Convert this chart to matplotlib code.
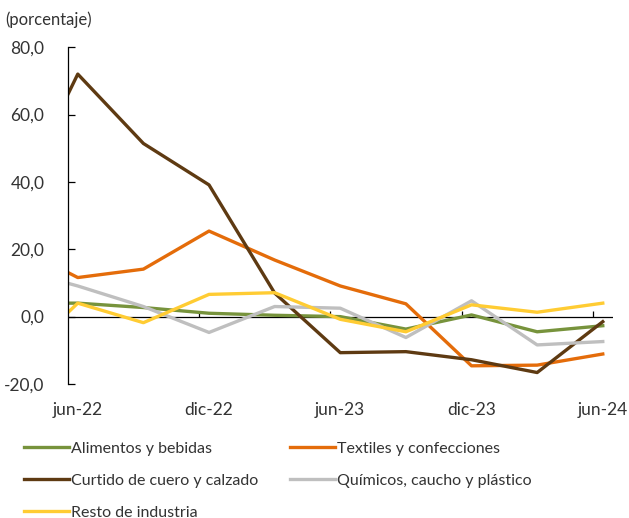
import numpy as np
import matplotlib
matplotlib.use("Agg")
import matplotlib.pyplot as plt

plt.rcParams['font.family'] = ['Lato', 'DejaVu Sans']

# x positions: first point sits on the axis, then quarterly points (jun-22 .. jun-24)
x = [-0.15, 0, 1, 2, 3, 4, 5, 6, 7, 8]
tick_labels = ["jun-22", "dic-22", "jun-23", "dic-23", "jun-24"]
tick_label_pos = [0, 2, 4, 6, 8]

alimentos = [4.0, 4.0, 2.7, 1.0, 0.4, 0.0, -3.7, 0.5, -4.5, -2.7]
textiles = [13.1, 11.6, 14.1, 25.4, 16.8, 9.1, 3.8, -14.6, -14.4, -11.1]
curtido = [66.0, 72.0, 51.4, 39.1, 7.0, -10.7, -10.4, -12.8, -16.6, -1.5]
quimicos = [9.9, 9.1, 3.0, -4.7, 3.0, 2.5, -6.2, 4.7, -8.4, -7.4]
resto = [1.2, 4.0, -1.8, 6.6, 7.1, -0.8, -4.5, 3.5, 1.3, 4.0]

fig = plt.figure(figsize=(6.29, 5.18), dpi=100)
ax = fig.add_axes([0.108, 0.2587, 0.867, 0.6503])

lw = 2.4
l1, = ax.plot(x, alimentos, color="#77933C", lw=lw, label="Alimentos y bebidas")
l2, = ax.plot(x, textiles, color="#E46C0A", lw=lw, label="Textiles y confecciones")
l3, = ax.plot(x, curtido, color="#5E3A12", lw=lw, label="Curtido de cuero y calzado")
l4, = ax.plot(x, quimicos, color="#BFBFBF", lw=lw, label="Químicos, caucho y plástico")
l5, = ax.plot(x, resto, color="#FFCC33", lw=lw, label="Resto de industria")

ax.set_xlim(-0.15, 8.16)
ax.set_ylim(-20, 80)

# zero line with small upward ticks every 6 months
ax.axhline(0, color="black", lw=0.9, zorder=1)
ax.vlines([1.85, 3.85, 5.85, 7.85], 0, 1.6, color="black", lw=0.9, zorder=1)

for s in ["top", "right", "bottom"]:
    ax.spines[s].set_visible(False)
ax.spines["left"].set_linewidth(0.9)

ax.set_yticks(np.arange(-20, 81, 20))
ax.set_yticklabels([f"{v:.1f}".replace(".", ",") for v in np.arange(-20, 81, 20)])
ax.tick_params(axis="y", direction="in", length=5, width=0.9, pad=17,
               labelsize=12.5, labelcolor="#333333", color="black")

ax.set_xticks(tick_label_pos)
ax.set_xticklabels(tick_labels)
ax.tick_params(axis="x", length=0, pad=13, labelsize=12.5, labelcolor="#333333")

fig.text(0.008, 0.962, "(porcentaje)", fontsize=12, color="#333333", va="center")

fig.legend([l1, l3, l5, l2, l4],
           [l1.get_label(), l3.get_label(), l5.get_label(), l2.get_label(), l4.get_label()],
           ncol=2, loc="upper left", bbox_to_anchor=(0.038, 0.147),
           frameon=False, fontsize=11.5, handlelength=2.8, handletextpad=0.15,
           columnspacing=2.0, labelspacing=1.1, borderpad=0, borderaxespad=0,
           labelcolor="#333333")

fig.savefig("out.png", dpi=100)
